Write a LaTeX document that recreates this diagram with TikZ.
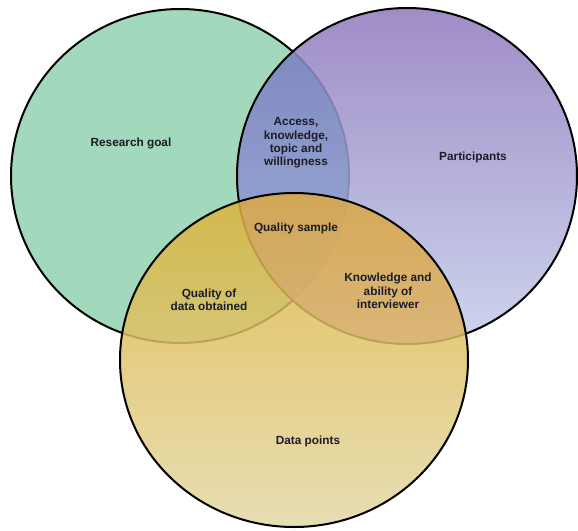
\documentclass[tikz,border=0pt]{standalone}
\usepackage{fontspec}
\setmainfont{Liberation Sans}
\definecolor{mint}{HTML}{A2D8BB}
\definecolor{violetTop}{HTML}{8E78BC}
\definecolor{violetBot}{HTML}{C4CEEA}
\definecolor{lensTop}{HTML}{6A84C2}
\definecolor{lensBot}{HTML}{8C9CD2}
\definecolor{ochreTop}{HTML}{DCB236}
\definecolor{ochreBot}{HTML}{E3D7A6}
\definecolor{amber}{HTML}{D7966E}
\definecolor{labeltext}{HTML}{1C1C28}
\begin{document}
\begin{tikzpicture}[x=1pt,y=-1pt,
  lbl/.style={font=\bfseries\fontsize{11.8}{13.4}\selectfont,
              text=labeltext, align=center, inner sep=0pt},
  rim/.style={draw=black, line width=2pt}]
\useasboundingbox (0,0) rectangle (578,530);

% circle geometry
\def\goal{(180,176) ellipse [x radius=169, y radius=167]}
\def\part{(407,176) ellipse [x radius=170, y radius=168]}
\def\data{(294,360) ellipse [x radius=174, y radius=167]}

% Research goal
\fill[mint] \goal;
\draw[rim] \goal;

% Participants, laid over the first circle
\shade[top color=violetTop, bottom color=violetBot, fill opacity=0.85] \part;
\begin{scope}
  \clip \goal;
  \shade[top color=lensTop, bottom color=lensBot, fill opacity=0.55] \part;
\end{scope}
\draw[rim] \part;

% Data points, laid over both
\shade[top color=ochreTop, bottom color=ochreBot, fill opacity=0.84] \data;
\begin{scope}
  \clip \part;
  \fill[amber, fill opacity=0.3] \data;
\end{scope}
\draw[rim] \data;

% labels
\node[lbl] (goal) at (131,143) {Research goal};
\node[lbl] (part) at (473,157) {Participants};
\node[lbl] (access) at (296,143) {Access,\\knowledge,\\topic and\\willingness};
\node[lbl] (sample) at (296,228) {Quality sample};
\node[lbl] (obtained) at (209,300) {Quality of\\data obtained};
\node[lbl] (interviewer) at (388,291) {Knowledge and\\ability of\\interviewer};
\node[lbl] (points) at (308,441) {Data points};
\end{tikzpicture}
\end{document}
